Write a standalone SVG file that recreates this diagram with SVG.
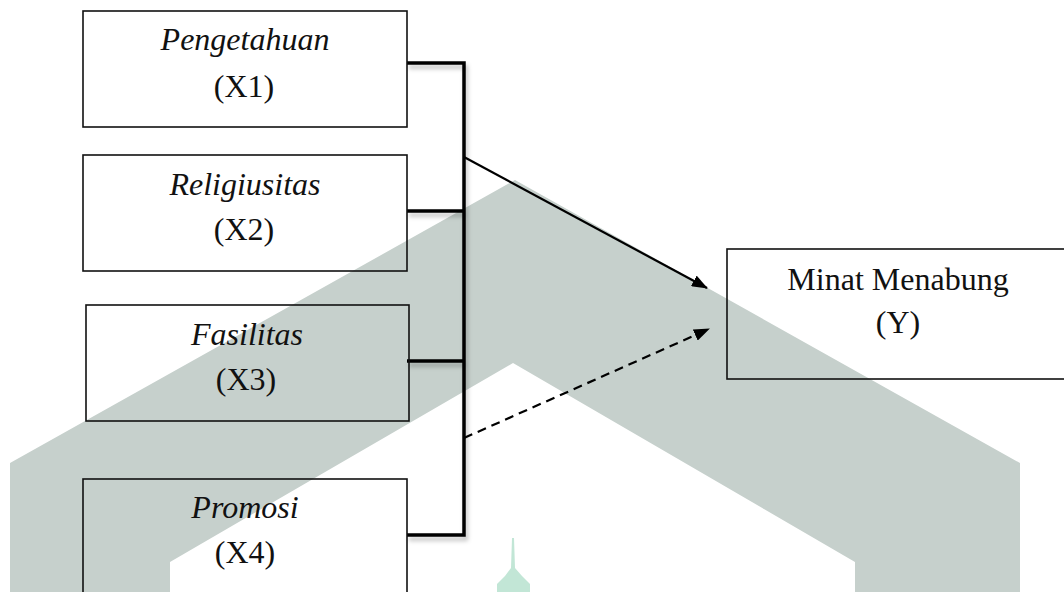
<svg xmlns="http://www.w3.org/2000/svg" width="1064" height="592" viewBox="0 0 1064 592">
  <style>
    .box { fill: none; stroke: #111; stroke-width: 1.6; }
    .lbl { font-family: "Liberation Serif", "Times New Roman", serif; font-size: 32px; fill: #111; text-anchor: middle; }
    .it { font-style: italic; }
    .bracket { fill: none; stroke: #000; stroke-width: 3.5; }
    .arrow { fill: none; stroke: #000; stroke-width: 2.2; }
    .dash { stroke-dasharray: 9 6; }
  </style>
  <defs>
    <marker id="head" viewBox="0 0 16 12" refX="15" refY="6" markerWidth="16" markerHeight="12" markerUnits="userSpaceOnUse" orient="auto">
      <path d="M0,0 L16,6 L0,12 Z" fill="#000"/>
    </marker>
    <filter id="shadow" x="-10%" y="-10%" width="130%" height="130%">
      <feDropShadow dx="2" dy="4" stdDeviation="2" flood-color="#000" flood-opacity="0.25"/>
    </filter>
  </defs>

  <rect width="1064" height="592" fill="#fff"/>

  <!-- background emblem -->
  <g id="emblem">
    <path d="M10,463 L515,180 L1020,463 L1020,592 L855,592 L855,562 L513,363 L170,562 L170,592 L10,592 Z" fill="#c6d0cc"/>
    <path d="M512,538 L514,538 L515,568 L522,576 L530,584 L530,592 L497,592 L497,584 L505,576 L511,568 Z" fill="#c2e6d6"/>
  </g>

  <!-- connectors -->
  <g id="connectors">
    <g filter="url(#shadow)">
      <path class="bracket" d="M407,63 H464 V535 H407"/>
      <path class="bracket" d="M407,211 H464 M407,361 H464"/>
    </g>
    <line class="arrow" x1="464" y1="157" x2="707" y2="288" marker-end="url(#head)"/>
    <line class="arrow dash" x1="464" y1="438" x2="709" y2="329" marker-end="url(#head)"/>
  </g>

  <g id="x1">
    <rect class="box" x="83" y="11" width="324" height="116"/>
    <text class="lbl it" x="245" y="50">Pengetahuan</text>
    <text class="lbl" x="244" y="97">(X1)</text>
  </g>

  <g id="x2">
    <rect class="box" x="83" y="155" width="324" height="116"/>
    <text class="lbl it" x="245" y="195">Religiusitas</text>
    <text class="lbl" x="244" y="240">(X2)</text>
  </g>

  <g id="x3">
    <rect class="box" x="86" y="305" width="323" height="116"/>
    <text class="lbl it" x="247" y="345">Fasilitas</text>
    <text class="lbl" x="246" y="390">(X3)</text>
  </g>

  <g id="x4">
    <rect class="box" x="83" y="479" width="324" height="130"/>
    <text class="lbl it" x="245" y="518">Promosi</text>
    <text class="lbl" x="245" y="563">(X4)</text>
  </g>

  <g id="y">
    <rect class="box" x="727" y="249" width="360" height="130"/>
    <text class="lbl" x="898" y="290">Minat Menabung</text>
    <text class="lbl" x="898" y="333">(Y)</text>
  </g>
</svg>
